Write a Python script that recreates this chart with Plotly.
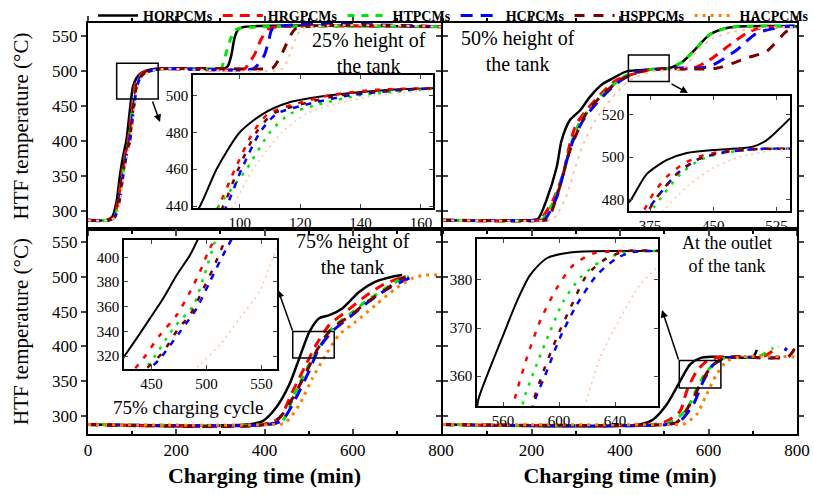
import plotly.graph_objects as go

W, H = 814, 495

SERIES = ["HQRPCMs", "HRGPCMs", "HTPCMs", "HCPCMs", "HSPPCMs", "HACPCMs"]
COLORS = ["#000000", "#ff0000", "#00e600", "#0000ff", "#7b0000", "#ff8000"]

# ---------------- 25 % height of the tank (main) ----------------
P25_t = {
    "HQRPCMs": [0, 40, 55, 65, 72, 80, 87, 95, 102, 110, 118, 130, 150, 300, 310, 317, 325, 332, 340, 350, 800],
    "HRGPCMs": [0, 44, 58, 68, 76, 84, 91, 99, 106, 113, 121, 135, 155, 355, 362, 377, 392, 407, 416, 800],
    "HTPCMs":  [0, 44, 60, 70, 78, 86, 93, 101, 109, 117, 126, 140, 165, 295, 302, 310, 321, 332, 343, 800],
    "HCPCMs":  [0, 46, 61, 71, 79, 87, 95, 103, 111, 118, 127, 140, 160, 374, 385, 400, 411, 419, 800],
    "HSPPCMs": [0, 45, 60, 70, 78, 86, 94, 102, 110, 117, 126, 138, 158, 377, 418, 430, 442, 460, 472, 800],
    "HACPCMs": [0, 47, 63, 73, 81, 89, 97, 105, 113, 121, 131, 145, 170, 440, 455, 470, 485, 800],
}
P25_T = {
    "HQRPCMs": [287, 287, 292, 315, 349, 380, 401, 445, 478, 490, 496, 500, 503, 503, 504, 507, 523, 547, 559, 562.5, 563],
    "HRGPCMs": [287, 287, 292, 315, 349, 380, 401, 445, 478, 490, 496, 500, 503, 503, 509, 523, 545, 559, 562, 563],
    "HTPCMs":  [287, 287, 292, 315, 349, 380, 401, 445, 478, 490, 496, 500, 503, 503, 504, 519, 542, 557, 561, 563],
    "HCPCMs":  [287, 287, 292, 315, 349, 380, 401, 445, 478, 490, 496, 500, 503, 503, 509, 523, 547, 561, 563],
    "HSPPCMs": [287, 287, 292, 315, 349, 380, 401, 445, 478, 490, 496, 500, 503, 503, 504, 514, 528, 552, 561, 563],
    "HACPCMs": [287, 287, 292, 315, 349, 380, 401, 445, 478, 490, 496, 500, 503, 503, 520, 545, 560, 563],
}
# ---------------- 25 % inset ----------------
I25_t = {
    "HQRPCMs": [80, 86.8, 92.3, 100, 107.7, 116, 130, 150, 170],
    "HRGPCMs": [88, 93, 98.4, 104.4, 109.4, 117.7, 129.8, 145, 170],
    "HTPCMs":  [88, 93, 102.2, 110, 116.6, 126, 139.7, 160, 170],
    "HCPCMs":  [90, 95.6, 100.6, 106.7, 112.2, 122, 136.4, 155, 170],
    "HSPPCMs": [89, 94.5, 99.5, 105.5, 111, 120, 133, 152, 170],
    "HACPCMs": [92, 97.7, 104.4, 114, 122, 131, 145, 165, 170],
}
I25_T = {
    "HQRPCMs": [425, 440, 460, 480, 490, 496, 500, 503, 504],
    "HRGPCMs": [425, 440, 460, 480, 490, 495, 500, 503, 504],
    "HTPCMs":  [425, 440, 460, 480, 490, 495, 500, 503, 504],
    "HCPCMs":  [425, 440, 460, 480, 490, 495, 500, 503, 504],
    "HSPPCMs": [425, 440, 460, 480, 490, 495, 500, 503, 504],
    "HACPCMs": [425, 440, 460, 480, 490, 495, 500, 503, 504],
}

# ---------------- 50 % height of the tank (main) ----------------
P50_t = {
    "HQRPCMs": [0, 200, 215, 234, 257, 268, 287, 310, 332, 362, 385, 415, 468, 513, 543, 573, 603, 641, 686, 800],
    "HRGPCMs": [0, 215, 223, 249, 272, 287, 302, 324, 355, 392, 437, 475, 565, 603, 649, 686, 716, 800],
    "HTPCMs":  [0, 218, 226, 253, 276, 291, 310, 336, 374, 415, 468, 513, 543, 573, 603, 641, 686, 800],
    "HCPCMs":  [0, 222, 230, 257, 280, 294, 317, 347, 392, 438, 512, 585, 611, 664, 709, 777, 800],
    "HSPPCMs": [0, 228, 237, 264, 287, 324, 360, 400, 440, 490, 618, 686, 731, 777, 800],
    "HACPCMs": [0, 240, 250, 278, 300, 320, 345, 380, 420, 470, 543, 573, 611, 656, 709, 800],
}
P50_T = {
    "HQRPCMs": [287, 287, 289, 316, 363, 401, 430, 444, 463, 482, 490, 499.5, 502, 504.3, 514, 533, 552, 561.4, 563.8, 564],
    "HRGPCMs": [287, 287, 290, 316, 354, 397, 425, 444, 466, 487, 497, 503, 504, 516, 537.6, 554, 561.4, 563],
    "HTPCMs":  [287, 287, 289, 318, 363, 399, 428, 449, 474, 494, 502, 504.3, 514, 533, 552, 561.4, 563.8, 564],
    "HCPCMs":  [287, 287, 288, 320, 373, 401, 430, 454, 482, 499, 504, 504.5, 509, 530, 554, 563.8, 564],
    "HSPPCMs": [287, 287, 288, 335, 387, 440, 466, 487, 498, 503, 504, 518.6, 528, 556.7, 561],
    "HACPCMs": [287, 287, 289, 320, 365, 400, 430, 460, 486, 499, 504, 528, 547, 556, 561, 563],
}
# ---------------- 50 % inset ----------------
I50_t = {
    "HQRPCMs": [345, 352, 371, 395, 418.6, 450, 481.5, 497, 513, 529, 541],
    "HRGPCMs": [360, 368, 379, 395, 415, 438.6, 458, 478, 497, 545],
    "HTPCMs":  [372, 380, 392, 411, 434, 462, 494, 515, 545],
    "HCPCMs":  [368, 375, 387, 406.6, 430, 458, 490, 510, 545],
    "HSPPCMs": [365, 371, 385, 406.6, 430, 458, 490, 510, 545],
    "HACPCMs": [380, 387, 418.6, 450, 481, 517, 545],
}
I50_T = {
    "HQRPCMs": [477, 479.7, 492, 498.7, 502, 503.4, 504.2, 505, 508, 513.7, 518.4],
    "HRGPCMs": [470, 475, 482.9, 490.8, 497, 501, 502.5, 503.5, 504, 504],
    "HTPCMs":  [472, 476.5, 482.9, 492, 498.7, 502, 503.5, 504, 504],
    "HCPCMs":  [472, 476.5, 482.9, 492, 498.7, 502, 503.5, 504, 504],
    "HSPPCMs": [470, 473.4, 482, 492, 498.7, 502, 503.5, 504, 504],
    "HACPCMs": [470, 473, 486, 495, 500, 503, 504],
}

# ---------------- 75 % height of the tank (main) ----------------
P75_t = {
    "HQRPCMs": [0, 358, 396, 426, 456, 479, 502, 524, 547, 577, 615, 652, 690, 712],
    "HRGPCMs": [0, 395, 434, 464, 494, 517, 547, 585, 622, 667, 705, 720],
    "HTPCMs":  [0, 400, 440, 471, 501, 524, 554, 592, 630, 675, 712, 727],
    "HCPCMs":  [0, 405, 440, 471, 501, 524, 554, 600, 637, 682, 727, 740],
    "HSPPCMs": [0, 400, 434, 464, 497, 520, 550, 596, 633, 678, 705, 720],
    "HACPCMs": [0, 417, 447, 479, 509, 539, 569, 607, 652, 698, 735, 765, 800],
}
P75_T = {
    "HQRPCMs": [288, 288, 293, 312, 345, 383.4, 421.4, 440.6, 445, 455, 478.6, 493, 500, 502.4],
    "HRGPCMs": [288, 288, 297.7, 336, 374, 402.4, 431, 450, 469, 488, 497.7, 500],
    "HTPCMs":  [288, 288, 293, 336, 374, 398, 427, 445.7, 464.7, 483.8, 497.7, 500],
    "HCPCMs":  [288, 288, 294, 326, 364.7, 398, 422, 445.7, 464.7, 483.8, 497.7, 500],
    "HSPPCMs": [288, 288, 297.7, 326, 366, 396, 424, 445, 464, 483, 496, 500],
    "HACPCMs": [288, 288, 290.5, 316.7, 355, 388, 416.7, 435.7, 459.6, 483.4, 497.7, 502.4, 502.4],
}
# ---------------- 75 % inset ----------------
I75_t = {
    "HQRPCMs": [420, 425, 436.5, 448.6, 460.7, 472.9, 485, 495],
    "HRGPCMs": [427.5, 442.5, 457.7, 472.9, 485, 494, 503, 512],
    "HTPCMs":  [435, 451.6, 469.8, 488, 497, 506.6, 510],
    "HCPCMs":  [425, 442.5, 457.7, 475.9, 491, 503, 515, 526],
    "HSPPCMs": [427, 445.6, 460.7, 474.5, 485, 494.3, 506, 515, 520],
    "HACPCMs": [480, 494, 512, 530, 548, 560, 566],
}
I75_T = {
    "HQRPCMs": [313, 319.4, 334.3, 350.5, 366.8, 385.6, 401.8, 420],
    "HRGPCMs": [302, 318, 337, 353.2, 372, 388.3, 407.3, 420],
    "HTPCMs":  [300, 318, 342.4, 361, 383, 410, 420],
    "HCPCMs":  [292, 304.6, 318, 339.7, 358.6, 380.2, 401.8, 420],
    "HSPPCMs": [296, 310, 323.5, 342.4, 353.2, 369.4, 391, 410, 420],
    "HACPCMs": [300, 312.8, 329, 350.5, 372, 399, 412],
}

# ---------------- At the outlet of the tank (main) ----------------
POUT_t = {
    "HQRPCMs": [0, 445, 475, 505.5, 535.6, 558, 581, 611, 701, 709],
    "HRGPCMs": [0, 475, 505.5, 535.6, 550.6, 573, 595.5, 626, 723, 758],
    "HTPCMs":  [0, 490, 520.6, 550.6, 573, 595.5, 625.6, 648, 712, 746.5],
    "HCPCMs":  [0, 505, 535.6, 565.6, 588, 611, 641, 663, 760, 776.7],
    "HSPPCMs": [0, 500, 528, 558, 581, 603.6, 626, 656, 780, 795.5],
    "HACPCMs": [0, 520, 543, 573, 595.5, 618, 641, 671, 800],
}
POUT_T = {
    "HQRPCMs": [288, 288, 295.3, 316.7, 350, 374, 383.4, 385.3, 385.3, 395],
    "HRGPCMs": [288, 288, 293, 307, 335.7, 364.3, 378.6, 385, 385.3, 400],
    "HTPCMs":  [288, 288, 293, 310, 338.6, 364.3, 381, 385, 385.3, 398],
    "HCPCMs":  [288, 288, 293, 316.7, 350, 374, 383.4, 385, 385.3, 398],
    "HSPPCMs": [288, 288, 291, 316.7, 345.3, 369, 381, 385, 385.3, 398],
    "HACPCMs": [288, 288, 288.5, 302.4, 331, 359.6, 378.6, 385, 385],
}
# ---------------- outlet inset ----------------
IOUT_t = {
    "HQRPCMs": [541, 542.4, 550.7, 560.2, 569.8, 579.3, 591.2, 607.9, 640, 675],
    "HRGPCMs": [565, 568.6, 577, 586.4, 598.4, 610.2, 624.5, 643.6, 675],
    "HTPCMs":  [572, 574.5, 584, 593.6, 603, 615, 629.3, 643.6, 658, 675],
    "HCPCMs":  [579, 581.6, 591.2, 600.7, 612.6, 627, 641.2, 653, 675],
    "HSPPCMs": [577, 579.3, 588.8, 598.4, 610.2, 619.8, 634, 648.4, 675],
    "HACPCMs": [614, 617.4, 629.3, 643.6, 657.9, 672, 680],
}
IOUT_T = {
    "HQRPCMs": [352, 355.2, 361.7, 368.6, 375.5, 381, 384.5, 385.7, 386, 386],
    "HRGPCMs": [350, 355.5, 363.8, 371.4, 378.3, 383.1, 385.5, 386, 386],
    "HTPCMs":  [350, 354.8, 362.4, 369.3, 375.5, 380.4, 383.8, 385.5, 386, 386],
    "HCPCMs":  [350, 354.1, 361, 368, 374.8, 381, 384.5, 385.8, 386],
    "HSPPCMs": [350, 352.7, 361, 368, 375.5, 381, 384.5, 386, 386],
    "HACPCMs": [350, 352.7, 363.8, 372, 379, 383, 384.5],
}

PANEL_LABELS = ["25% height of<br>the tank", "50% height of<br>the tank",
                "75% height of<br>the tank", "At the outlet<br>of the tank"]
CYCLE_LABEL = "75% charging cycle"
X_TICKS_LEFT = [0, 200, 400, 600, 800]
X_TICKS_RIGHT = [200, 400, 600, 800]
Y_TICKS = [300, 350, 400, 450, 500, 550]

FONT = "Liberation Serif"

MAIN_STYLE = {
    "HQRPCMs": dict(width=2.5, dash="solid"),
    "HRGPCMs": dict(width=3, dash="10px,7px"),
    "HTPCMs":  dict(width=3, dash="7px,7px"),
    "HCPCMs":  dict(width=3, dash="12px,8px"),
    "HSPPCMs": dict(width=3, dash="10px,9px"),
    "HACPCMs": dict(width=3, dash="3px,5px"),
}
PALE_ORANGE = "#ffc4a0"
INSET_STYLE = {
    "HQRPCMs": dict(width=2, dash="solid", color="#000000"),
    "HRGPCMs": dict(width=2.5, dash="5px,8px", color="#ff0000"),
    "HTPCMs":  dict(width=2.5, dash="3px,7px", color="#00e600"),
    "HCPCMs":  dict(width=2.5, dash="6px,7px", color="#0000ff"),
    "HSPPCMs": dict(width=2.5, dash="5px,9px", color="#7b0000"),
    "HACPCMs": dict(width=1.5, dash="2px,4px", color=PALE_ORANGE),
}


def fx(px):
    return px / W


def fy(py):
    return 1 - py / H


fig = go.Figure()

mains = [(P25_t, P25_T, "x", "y", True), (P50_t, P50_T, "x2", "y2", True),
         (P75_t, P75_T, "x3", "y3", False), (POUT_t, POUT_T, "x4", "y4", False)]
insets = [(I25_t, I25_T, "x5", "y5"), (I50_t, I50_T, "x6", "y6"),
          (I75_t, I75_T, "x7", "y7"), (IOUT_t, IOUT_T, "x8", "y8")]

# legend-only entries (always full colour)
for name, col in zip(SERIES, COLORS):
    st = MAIN_STYLE[name]
    fig.add_trace(go.Scatter(
        x=[None], y=[None], mode="lines", name=name, xaxis="x", yaxis="y",
        showlegend=True, legendgroup=name,
        line=dict(color=col, width=st["width"], dash=st["dash"])))

for dt, dT, xa, ya, top in mains:
    for name, col in zip(SERIES, COLORS):
        st = MAIN_STYLE[name]
        c = col
        w = st["width"]
        if name == "HACPCMs" and top:
            c, w = PALE_ORANGE, 2
        fig.add_trace(go.Scatter(
            x=dt[name], y=dT[name], mode="lines", name=name,
            xaxis=xa, yaxis=ya, showlegend=False, legendgroup=name,
            line=dict(color=c, width=w, dash=st["dash"],
                      shape="spline", smoothing=0.7)))

for dt, dT, xa, ya in insets:
    for name in SERIES:
        st = INSET_STYLE[name]
        fig.add_trace(go.Scatter(
            x=dt[name], y=dT[name], mode="lines", name=name,
            xaxis=xa, yaxis=ya, showlegend=False, legendgroup=name,
            line=dict(color=st["color"], width=st["width"], dash=st["dash"],
                      shape="spline", smoothing=0.7)))

tickfont = dict(family=FONT, size=17, color="black")
insetfont = dict(family=FONT, size=15, color="black")

main_dom = {
    1: ([88, 441], [23, 229]), 2: ([443, 797], [23, 229]),
    3: ([88, 441], [229, 434]), 4: ([443, 797], [229, 434]),
}
for i, (dx, dy) in main_dom.items():
    xk = "xaxis" if i == 1 else f"xaxis{i}"
    yk = "yaxis" if i == 1 else f"yaxis{i}"
    bottom = i in (3, 4)
    left = i in (1, 3)
    fig.layout[xk] = dict(
        domain=[fx(dx[0]), fx(dx[1])], range=[0, 800], anchor=f"y{'' if i == 1 else i}",
        showline=True, linecolor="black", linewidth=2, mirror="ticks",
        ticks="inside" if bottom else "outside", ticklen=5, tickwidth=1.5,
        tickvals=X_TICKS_LEFT if left else X_TICKS_RIGHT,
        showticklabels=bottom, tickfont=tickfont,
        minor=dict(ticks="inside" if bottom else "outside", ticklen=3, dtick=100, tick0=0,
                   tickcolor="black"),
        showgrid=False, zeroline=False, automargin=False,
        title=dict(text="<b>Charging time (min)</b>" if bottom else "",
                   font=dict(family=FONT, size=22, color="black"), standoff=8),
    )
    fig.layout[yk] = dict(
        domain=[fy(dy[1]), fy(dy[0])], range=[274.5, 568.5], anchor=f"x{'' if i == 1 else i}",
        showline=True, linecolor="black", linewidth=2, mirror="ticks",
        ticks="outside", ticklen=5, tickwidth=1.5, tickvals=Y_TICKS,
        showticklabels=left, tickfont=tickfont,
        showgrid=False, zeroline=False, automargin=False,
        title=dict(text="HTF temperature (°C)" if left else "",
                   font=dict(family=FONT, size=21, color="black"), standoff=18),
    )

inset_cfg = {
    5: ([193, 433], [75, 208], [84.5, 164], [439, 511], [100, 120, 140, 160], [440, 460, 480, 500]),
    6: ([629, 790], [96, 211], [350, 541], [474.5, 529], [375, 450, 525], [480, 500, 520]),
    7: ([124, 277], [240, 369], [425, 564], [309.5, 414], [450, 500, 550], [320, 340, 360, 380, 400]),
    8: ([477, 658], [239, 406], [541.4, 670.7], [353.8, 388.5], [560, 600, 640], [360, 370, 380]),
}
for i, (dx, dy, xr, yr, xt, yt) in inset_cfg.items():
    fig.layout[f"xaxis{i}"] = dict(
        domain=[fx(dx[0]), fx(dx[1])], range=xr, anchor=f"y{i}",
        showline=True, linecolor="black", linewidth=1.5, mirror="ticks",
        ticks="inside", ticklen=4, tickvals=xt, tickfont=insetfont,
        showgrid=False, zeroline=False, automargin=False)
    fig.layout[f"yaxis{i}"] = dict(
        domain=[fy(dy[1]), fy(dy[0])], range=yr, anchor=f"x{i}",
        showline=True, linecolor="black", linewidth=1.5, mirror="ticks",
        ticks="inside", ticklen=4, tickvals=yt, tickfont=insetfont,
        showgrid=False, zeroline=False, automargin=False)

# zoom boxes on the main panels
boxes = [("x", "y", 65, 159, 460, 511), ("x2", "y2", 419, 511, 485, 523),
         ("x3", "y3", 464, 558, 383.4, 421.4), ("x4", "y4", 534, 628, 340.6, 380)]
for xa, ya, x0, x1, y0, y1 in boxes:
    fig.add_shape(type="rect", xref=xa, yref=ya, x0=x0, x1=x1, y0=y0, y1=y1,
                  line=dict(color="black", width=1.5))

texts = [(369, 53, PANEL_LABELS[0], 20), (518, 51, PANEL_LABELS[1], 20),
         (353, 254, PANEL_LABELS[2], 20), (727, 254, PANEL_LABELS[3], 18)]
for x, y, t, s in texts:
    fig.add_annotation(x=fx(x), y=fy(y), xref="paper", yref="paper", text=t,
                       showarrow=False, font=dict(family=FONT, size=s, color="black"),
                       xanchor="center", yanchor="middle", align="center")
fig.add_annotation(x=fx(188), y=fy(407), xref="paper", yref="paper", text=CYCLE_LABEL,
                   showarrow=False, font=dict(family=FONT, size=19, color="black"),
                   xanchor="center", yanchor="middle")

arrows = [(160, 122, -8, -22), (688, 93, -18, -10), (278, 290, 15, 42), (662, 310, 17, 51)]
for hx, hy, ax, ay in arrows:
    fig.add_annotation(x=fx(hx), y=fy(hy), xref="paper", yref="paper", text="",
                       showarrow=True, arrowhead=2, arrowsize=1, arrowwidth=1.5,
                       arrowcolor="black", ax=ax, ay=ay)

fig.update_layout(
    width=W, height=H, margin=dict(l=0, r=0, t=0, b=0, autoexpand=False),
    paper_bgcolor="white", plot_bgcolor="white",
    font=dict(family=FONT, color="black"),
    legend=dict(orientation="h", x=fx(93), y=1.0, xanchor="left", yanchor="top",
                font=dict(family=FONT, size=14, color="black", weight="bold"),
                bgcolor="rgba(0,0,0,0)", itemwidth=40, tracegroupgap=0),
)

fig.write_html("out.html", config={"displayModeBar": False},
               post_script="document.body.style.margin='0';")
